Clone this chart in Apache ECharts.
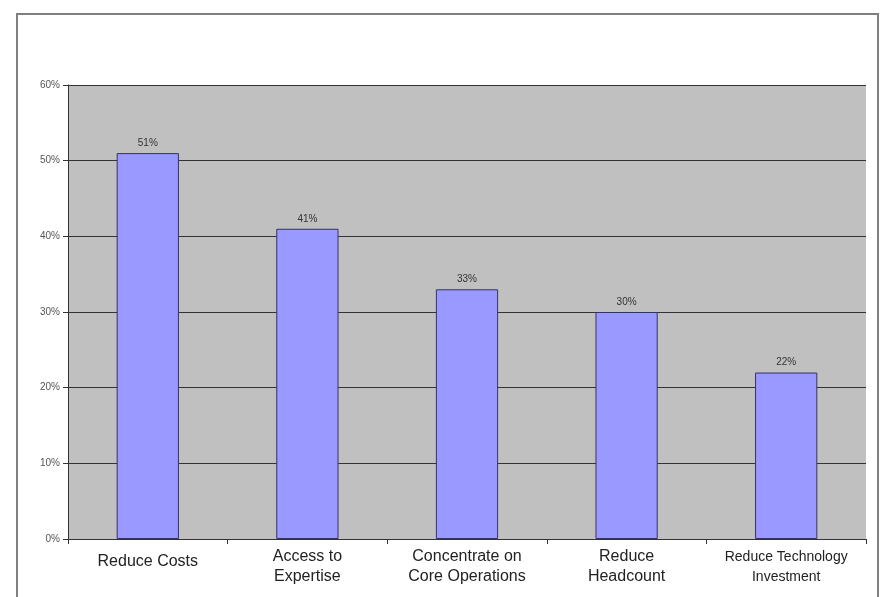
<!DOCTYPE html>
<html>
<head>
<meta charset="utf-8">
<script src="https://cdn.jsdelivr.net/npm/echarts@6/dist/echarts.min.js"></script>
<style>html,body{margin:0;padding:0;background:#fff;}#c{width:880px;height:597px;}</style>
</head>
<body>
<div id="c"></div>
<script>
var categories = ["Reduce Costs", "Access to\nExpertise", "Concentrate on\nCore Operations", "Reduce\nHeadcount", "Reduce Technology\nInvestment"];
var values = [51, 41, 33, 30, 22];
var yTicks = [0, 10, 20, 30, 40, 50, 60];

var catData = categories.map(function (c) {
  var single = c.indexOf('\n') < 0;
  return single ? {value: c, textStyle: {padding: [5, 0, 0, 0]}} : c;
});

var chart = echarts.init(document.getElementById('c'), null, {renderer: 'canvas'});
chart.setOption({
  animation: false,
  backgroundColor: '#ffffff',
  graphic: [{
    type: 'rect',
    shape: {x: 17, y: 14, width: 861, height: 600},
    style: {fill: 'none', stroke: '#808080', lineWidth: 2},
    silent: true
  }],
  grid: {left: 68, right: 14, top: 85, bottom: 58, show: true, backgroundColor: '#c0c0c0', borderWidth: 0},
  xAxis: {
    type: 'category',
    data: catData,
    axisLine: {show: true, lineStyle: {color: '#333333', width: 1}},
    axisTick: {show: true, alignWithLabel: false, length: 5, lineStyle: {color: '#333333'}},
    axisLabel: {
      fontFamily: 'Liberation Sans, Arial, sans-serif', fontSize: 16, color: '#222222', lineHeight: 20, margin: 8, interval: 0,
      formatter: function (v, i) {
        if (i === categories.length - 1) {
          return v.split('\n').map(function (s) { return '{s|' + s + '}'; }).join('\n');
        }
        return v;
      },
      rich: {s: {fontSize: 14, lineHeight: 20, color: '#222222', fontFamily: 'Liberation Sans, Arial, sans-serif'}}
    }
  },
  yAxis: {
    type: 'value',
    min: yTicks[0], max: yTicks[yTicks.length - 1], interval: 10,
    axisLine: {show: true, lineStyle: {color: '#333333', width: 1}},
    axisTick: {show: true, length: 5, lineStyle: {color: '#333333'}},
    axisLabel: {fontFamily: 'Liberation Sans, Arial, sans-serif', fontSize: 10, color: '#555555', margin: 8, formatter: '{value}%'},
    splitLine: {show: true, lineStyle: {color: '#333333', width: 1}}
  },
  series: [{
    type: 'bar',
    data: values,
    barWidth: '39%',
    itemStyle: {color: '#9999ff', borderColor: '#333366', borderWidth: 1},
    label: {show: true, position: 'top', distance: 5, formatter: '{c}%', fontFamily: 'Liberation Sans, Arial, sans-serif', fontSize: 10, color: '#333333'}
  }]
});
</script>
</body>
</html>
